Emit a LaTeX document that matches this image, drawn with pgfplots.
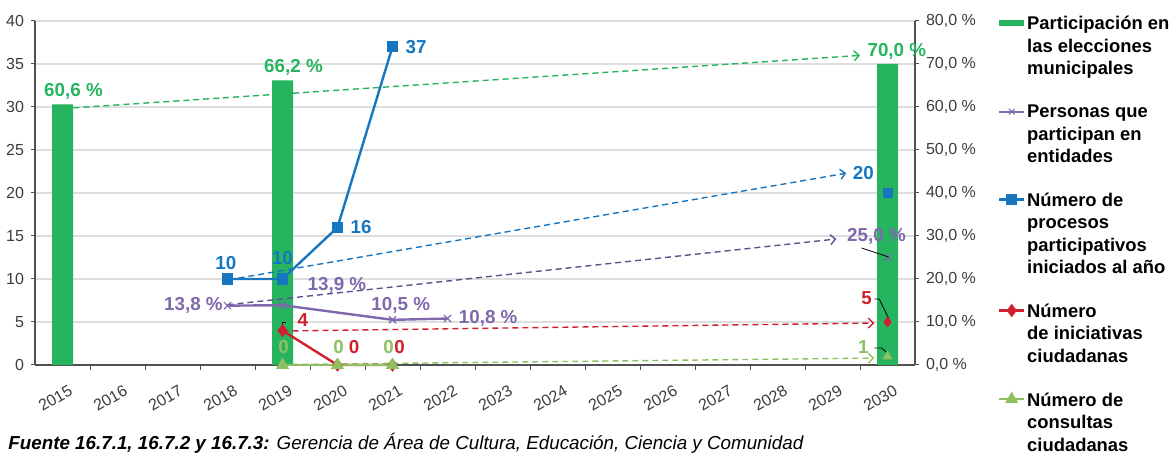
\documentclass[border=0pt]{standalone}
\usepackage{pgfplots}
\pgfplotsset{compat=1.18}
\usepackage{fontspec}
\setmainfont{Liberation Sans}
\usetikzlibrary{arrows.meta}
\definecolor{cgreen}{RGB}{38,180,95}
\definecolor{cblue}{RGB}{22,118,192}
\definecolor{cpurple}{RGB}{125,105,172}
\definecolor{cpurpled}{RGB}{95,80,142}
\definecolor{cred}{RGB}{208,32,45}
\definecolor{clg}{RGB}{142,192,98}
\definecolor{ctick}{RGB}{60,60,60}
\definecolor{caxis}{RGB}{80,80,80}
\definecolor{cgrid}{RGB}{222,222,222}
\tikzset{lab/.style={font=\bfseries\fontsize{9.4}{11}\selectfont}}
\pgfplotsset{
 base/.style={scale only axis, width=440pt, height=172pt, xmin=2014.5, xmax=2030.5, ymin=0,
  tick align=outside, major tick length=2pt, minor tick length=2.5pt,
  axis line style={caxis, line width=0.6pt}, tick style={caxis, line width=0.5pt},
  tick label style={font=\fontsize{8}{9}\selectfont, text=ctick},
  /pgf/number format/assume math mode=true, clip=false},
 trend/.style={dash pattern=on 3pt off 2pt, line width=0.7pt, -{Straight Barb[length=2.5pt,width=5pt]}},
 lead/.style={black, line width=0.4pt, forget plot},
}
\begin{document}
\begin{tikzpicture}
% right (percentage) axis
\begin{axis}[base, ymax=80, axis y line*=right, axis x line*=bottom,
 ytick={0,10,...,80},
 yticklabels={{0,0 \%},{10,0 \%},{20,0 \%},{30,0 \%},{40,0 \%},{50,0 \%},{60,0 \%},{70,0 \%},{80,0 \%}},
 ymajorgrids, grid style={cgrid, line width=0.6pt},
 xtick={2015,2016,2017,2018,2019,2020,2021,2022,2023,2024,2025,2026,2027,2028,2029,2030},
 xticklabels={2015,2016,2017,2018,2019,2020,2021,2022,2023,2024,2025,2026,2027,2028,2029,2030},
 major x tick style={draw=none},
 minor xtick={2015.5,2016.5,2017.5,2018.5,2019.5,2020.5,2021.5,2022.5,2023.5,2024.5,2025.5,2026.5,2027.5,2028.5,2029.5},
 xticklabel style={rotate=30, anchor=north east, xshift=2pt, yshift=-4.5pt},
]
\addplot[ybar, bar width=10.5pt, fill=cgreen, draw=none] coordinates {(2015,60.6)(2019,66.2)(2030,70.0)};
\addplot[trend, cgreen] coordinates {(2015.2,59.8)(2029.5,72.0)};
\addplot[trend, cpurpled] coordinates {(2018,14.0)(2029.07,29.3)};
\addplot[cpurple, line width=1.2pt, mark=x, mark size=2.5pt, mark options={line width=0.6pt}] coordinates {(2018,13.8)(2019,13.9)(2021,10.5)(2022,10.8)};
\addplot[cpurple, only marks, mark=x, mark size=2.5pt, mark options={line width=0.6pt}] coordinates {(2030,25.0)};
\end{axis}
% left (count) axis
\begin{axis}[base, ymax=40, axis y line*=left, axis x line=none,
 ytick={0,5,...,40},
 legend style={at={(1.085,1.0271)}, anchor=north west, draw=none, fill=none,
   font=\bfseries\fontsize{9.2}{11.25}\selectfont, row sep=13.35pt, column sep=0pt,
   nodes={inner sep=0pt, align=left}, cells={anchor=north west}},
 legend image code/.code={\draw[mark repeat=2,mark phase=2,#1] plot coordinates {(0pt,-3.5pt)(6.25pt,-3.5pt)(12.5pt,-3.5pt)};},
]
\addlegendimage{cgreen, line width=3pt}
\addlegendentry{Participación en\\las elecciones\\municipales}
\addlegendimage{cpurple, line width=1pt, mark=x, mark size=2pt, mark options={line width=0.5pt}}
\addlegendentry{Personas que\\participan en\\entidades}
% trends
\addplot[trend, cblue, forget plot] coordinates {(2018.2,10.1)(2029.25,22.3)};
\addplot[trend, cred, forget plot] coordinates {(2019,3.95)(2029.76,4.88)};
\addplot[trend, clg, forget plot] coordinates {(2019,0.05)(2029.76,0.8)};
% series
\addplot[cblue, line width=1.2pt, mark=square*, mark size=2.2pt] coordinates {(2018,10)(2019,10)(2020,16)(2021,37)};
\addlegendentry{Número de\\procesos\\participativos\\iniciados al año}
\addplot[cred, line width=1.2pt, mark=diamond*, mark size=2.4pt] coordinates {(2019,4)(2020,0)(2021,0)};
\addlegendentry{Número\\de iniciativas\\ciudadanas}
\addplot[clg, line width=1.2pt, mark=triangle*, mark size=2.6pt] coordinates {(2019,0)(2020,0)(2021,0)};
\addlegendentry{Número de\\consultas\\ciudadanas}
\addplot[cblue, only marks, mark=square*, mark size=2.2pt, forget plot] coordinates {(2030,20)};
\addplot[cred, only marks, mark=diamond*, mark size=2.4pt, forget plot] coordinates {(2030,5)};
\addplot[clg, only marks, mark=triangle*, mark size=2.6pt, forget plot] coordinates {(2030,1)};
% leader lines
\addplot[lead] coordinates {(2029.53,13.6)(2030.02,12.56)};
\addplot[lead] coordinates {(2029.76,7.67)(2029.85,7.67)(2030.03,5.3)};
\addplot[lead] coordinates {(2029.76,1.98)(2029.89,1.98)(2030.0,1.4)};
\addplot[lead] coordinates {(2019,4.1)(2019,5.0)(2019.07,5.0)};
% labels
\node[lab, text=cgreen] at (axis cs:2015.2,31.86) {60,6 \%};
\node[lab, text=cgreen] at (axis cs:2019.2,34.65) {66,2 \%};
\node[lab, text=cgreen] at (axis cs:2030.17,36.5) {70,0 \%};
\node[lab, text=cblue] at (axis cs:2021.43,36.98) {37};
\node[lab, text=cblue] at (axis cs:2020.43,16.05) {16};
\node[lab, text=cblue] at (axis cs:2017.97,11.86) {10};
\node[lab, text=cblue] at (axis cs:2019.0,12.44) {10};
\node[lab, text=cblue] at (axis cs:2029.56,22.33) {20};
\node[lab, text=cpurple] at (axis cs:2017.38,6.98) {13,8 \%};
\node[lab, text=cpurple] at (axis cs:2019.99,9.30) {13,9 \%};
\node[lab, text=cpurple] at (axis cs:2021.15,6.98) {10,5 \%};
\node[lab, text=cpurple] at (axis cs:2022.74,5.47) {10,8 \%};
\node[lab, text=cpurple] at (axis cs:2029.8,15.0) {25,0 \%};
\node[lab, text=cred] at (axis cs:2019.37,5.23) {4};
\node[lab, text=cred] at (axis cs:2029.62,7.79) {5};
\node[lab, text=clg] at (axis cs:2029.56,2.09) {1};
\node[lab, text=clg] at (axis cs:2019.02,2.09) {0};
\node[lab, text=clg] at (axis cs:2020.02,2.09) {0};
\node[lab, text=cred] at (axis cs:2020.30,2.09) {0};
\node[lab, text=clg] at (axis cs:2020.93,2.09) {0};
\node[lab, text=cred] at (axis cs:2021.13,2.09) {0};
\end{axis}
\node[anchor=base west, inner sep=0pt, font=\itshape\fontsize{9.4}{11}\selectfont] at (-13.5pt,-42.5pt) {\textbf{Fuente 16.7.1, 16.7.2 y 16.7.3:} Gerencia de Área de Cultura, Educación, Ciencia y Comunidad};
\pgfresetboundingbox
\path[use as bounding box] (-17.5pt,-44pt) rectangle (569.5pt,182.5pt);
\end{tikzpicture}
\end{document}
